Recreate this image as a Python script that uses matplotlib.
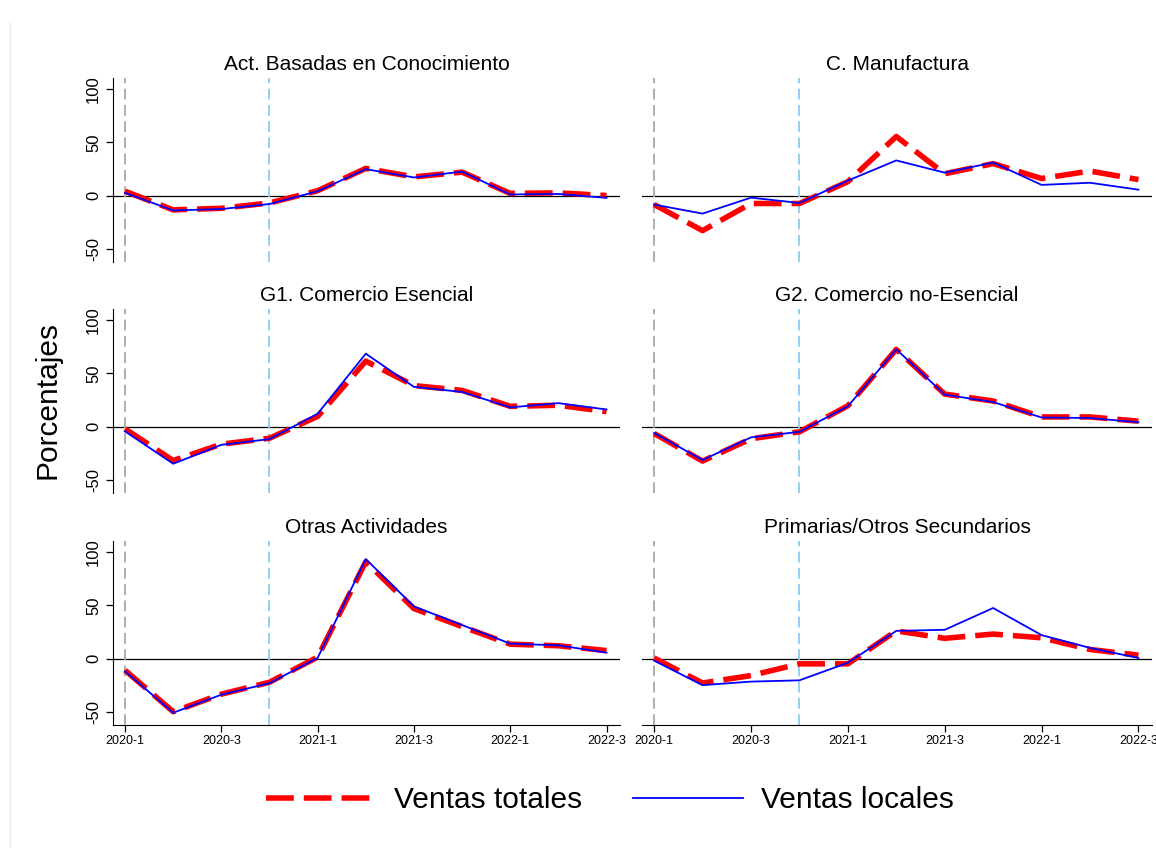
#importing
import numpy as np
import matplotlib
matplotlib.use("Agg")
import matplotlib.pyplot as plt
from matplotlib.lines import Line2D

plt.rcParams['font.family'] = ['Liberation Sans', 'DejaVu Sans']
plt.rcParams['axes.unicode_minus'] = False

#data
quarters = ["2020-1", "2020-2", "2020-3", "2020-4", "2021-1", "2021-2",
            "2021-3", "2021-4", "2022-1", "2022-2", "2022-3"]
tick_quarters = ["2020-1", "2020-3", "2021-1", "2021-3", "2022-1", "2022-3"]

titles = ["Act. Basadas en Conocimiento", "C. Manufactura",
          "G1. Comercio Esencial", "G2. Comercio no-Esencial",
          "Otras Actividades", "Primarias/Otros Secundarios"]

totales_conocimiento = [4, -13.5, -12, -7, 4.5, 25.5, 17.5, 22, 2, 2.5, 0]
locales_conocimiento = [2.5, -14, -12.7, -8, 4, 24.8, 17, 22.5, 1, 1.5, -2.2]

totales_manufactura = [-8.5, -33, -7.5, -7.5, 13, 55.5, 20.5, 30, 16, 23, 15]
locales_manufactura = [-8.5, -17, -2, -7, 14, 33, 21.5, 31, 10, 12, 5.5]

totales_g1 = [-2.2, -32, -16.6, -11, 9.5, 61.5, 38.5, 34, 19, 20, 14]
locales_g1 = [-4.5, -35, -17.2, -11.8, 12, 68.5, 37.3, 32.5, 18, 22, 16]

totales_g2 = [-6.5, -32.5, -11.5, -5, 19.5, 72.5, 30.5, 24, 9, 9, 5]
locales_g2 = [-6, -31.5, -10.2, -5, 19, 72.6, 30, 23, 8.5, 8, 4]

totales_otras = [-11, -50, -33.5, -22.3, 1.3, 91, 47, 30, 13.5, 12, 7.5]
locales_otras = [-12, -51, -34, -23.2, 0.6, 93.5, 49, 31.5, 14, 12.4, 5.5]

totales_primarias = [0.5, -23, -16, -5, -5, 26, 19, 23, 19.5, 8.5, 3.2]
locales_primarias = [-2, -25, -21.7, -20.5, -4, 26, 27, 47.5, 22, 10, 0.5]

totales = [totales_conocimiento, totales_manufactura, totales_g1,
           totales_g2, totales_otras, totales_primarias]
locales = [locales_conocimiento, locales_manufactura, locales_g1,
           locales_g2, locales_otras, locales_primarias]

x = np.arange(len(quarters))
tick_pos = [quarters.index(q) for q in tick_quarters]
covid_q = quarters.index("2020-1")
reopen_q = quarters.index("2020-4")

#figure
W, H = 1156, 848
fig = plt.figure(figsize=(W / 100, H / 100), dpi=100)

col_left = [113, 642]
col_right = [620, 1152]
row_top = [78, 309, 541]
row_h = 184

for i in range(6):
    r, c = divmod(i, 2)
    left = col_left[c] / W
    width = (col_right[c] - col_left[c]) / W
    bottom = 1 - (row_top[r] + row_h) / H
    ax = fig.add_axes([left, bottom, width, row_h / H])

    ax.axhline(0, color='black', lw=0.9, zorder=1)
    ax.axvline(covid_q, color='#a8a8a8', lw=1.3, ls=(0, (6, 3)), zorder=1)
    ax.axvline(reopen_q, color='#8ccbf0', lw=1.3, ls=(0, (6, 3)), zorder=1)

    ax.plot(x, totales[i], color='red', lw=4, ls=(0, (5, 1.8)), zorder=2)
    ax.plot(x, locales[i], color='blue', lw=1.3, zorder=3)

    ax.set_xlim(-0.25, 10.28)
    ax.set_ylim(-62.5, 110.5)
    ax.set_title(titles[i], fontsize=15, pad=6)

    for s in ['top', 'right']:
        ax.spines[s].set_visible(False)
    ax.spines['left'].set_visible(c == 0)
    ax.spines['bottom'].set_visible(r == 2)

    if c == 0:
        ax.set_yticks([-50, 0, 50, 100])
        ax.tick_params(axis='y', labelsize=12, length=5, width=0.9)
        for lab in ax.get_yticklabels():
            lab.set_rotation(90)
            lab.set_va('center')
    else:
        ax.set_yticks([])

    if r == 2:
        ax.set_xticks(tick_pos)
        ax.set_xticklabels(tick_quarters, fontsize=9)
        ax.tick_params(axis='x', length=5, width=0.9, pad=2)
    else:
        ax.set_xticks([])

#y label
fig.text(48 / W, 1 - 400 / H, "Porcentajes", rotation=90, fontsize=21.5,
         ha='center', va='center')

#legend
handles = [Line2D([], [], color='red', lw=4, ls=(0, (5, 1.8))),
           Line2D([], [], color='blue', lw=1.3)]
fig.legend(handles, ["Ventas totales", "Ventas locales"], loc='center',
           bbox_to_anchor=(610 / W, 1 - 800 / H), ncol=2, frameon=False,
           fontsize=21.5, handlelength=3.7, columnspacing=1.7, handletextpad=0.6)

#faint outer border
fig.add_artist(Line2D([10 / W, 10 / W], [0, 1 - 22 / H], color='#ececec', lw=1))

fig.savefig("out.png", dpi=100, facecolor='white')
